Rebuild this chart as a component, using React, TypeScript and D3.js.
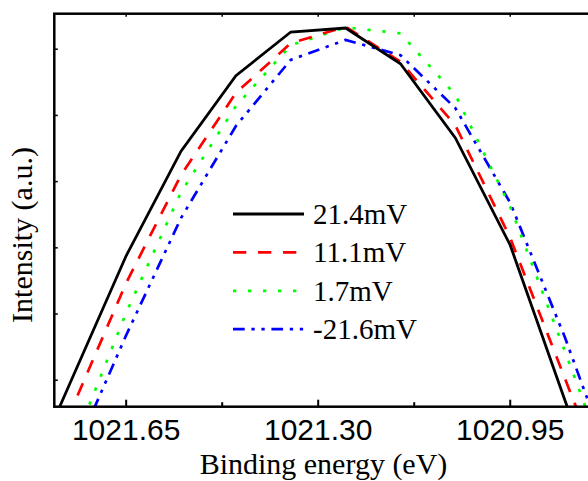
import React, { useRef, useEffect } from 'react';
import * as d3 from 'd3';

// binding energies (eV) where each curve was sampled
const energies = [1021.85, 1021.75, 1021.65, 1021.55, 1021.45, 1021.35, 1021.25, 1021.15, 1021.05, 1020.95, 1020.85, 1020.75];

// intensities (a.u.)
const s214 = [-0.89, 1.0, 2.88, 4.46, 5.6, 6.26, 6.32, 5.78, 4.66, 3.04, 0.69, -1.61];
const s111 = [-1.3, 0.55, 2.47, 4.1, 5.34, 6.09, 6.34, 5.81, 4.85, 3.15, 1.02, -1.11];
const s17 = [-2.1, -0.05, 2.02, 3.84, 5.14, 6.06, 6.33, 6.24, 5.31, 3.62, 1.43, -0.81];
const sm216 = [-2.1, -0.21, 1.68, 3.45, 4.84, 5.84, 6.14, 5.91, 5.11, 3.68, 1.64, -0.63];

const seriesNames = ['21.4mV', '11.1mV', '1.7mV', '-21.6mV'];

const xMajorTicks = [1021.65, 1021.3, 1020.95];
const xMinorTicks = [1021.475, 1021.125];
const yTicks = [1, 2, 3, 4, 5, 6];

const W = 588;
const H = 481;

const Chart = () => {
  const svgRef = useRef<SVGSVGElement>(null);

  useEffect(() => {
    const svg = d3.select(svgRef.current);
    svg.selectAll('*').remove();

    const left = 54.3, top = 13.7, right = 603.5, bottom = 406.7;

    const x = d3.scaleLinear().domain([1021.781, 1020.78]).range([left, right]);
    const y = d3.scaleLinear().domain([0.6, 0.6 + (bottom - top) / 66.2]).range([bottom, top]);

    svg.append('defs').append('clipPath').attr('id', 'plotclip')
      .append('rect')
      .attr('x', left).attr('y', top)
      .attr('width', right - left).attr('height', bottom - top);

    const styles = [
      { values: sm216, color: '#0000ff', dash: '11.7,6.7,3.3,6.7,3.3,6.7', width: 2.7, name: seriesNames[3] },
      { values: s17, color: '#00ff00', dash: '3.3,11.7', width: 2.7, name: seriesNames[2] },
      { values: s111, color: '#ff0000', dash: '13.3,11.7', width: 2.7, name: seriesNames[1] },
      { values: s214, color: '#000000', dash: null, width: 2.8, name: seriesNames[0] },
    ];

    const line = d3.line<number>()
      .x((d, i) => x(energies[i]))
      .y(d => y(d));

    const g = svg.append('g').attr('clip-path', 'url(#plotclip)');
    styles.forEach(s => {
      g.append('path')
        .attr('d', line(s.values))
        .attr('fill', 'none')
        .attr('stroke', s.color)
        .attr('stroke-width', s.width)
        .attr('stroke-dasharray', s.dash);
    });

    // frame
    svg.append('rect')
      .attr('x', left).attr('y', top)
      .attr('width', right - left).attr('height', bottom - top)
      .attr('fill', 'none')
      .attr('stroke', '#000')
      .attr('stroke-width', 2.5);

    // bottom ticks (inward)
    xMajorTicks.forEach(t => {
      svg.append('line')
        .attr('x1', x(t)).attr('x2', x(t))
        .attr('y1', bottom).attr('y2', bottom - 7)
        .attr('stroke', '#000').attr('stroke-width', 2);
      svg.append('line')
        .attr('x1', x(t)).attr('x2', x(t))
        .attr('y1', top).attr('y2', top + 3)
        .attr('stroke', '#000').attr('stroke-width', 1.5);
      svg.append('text')
        .attr('x', x(t)).attr('y', 440)
        .attr('text-anchor', 'middle')
        .attr('font-family', '"Liberation Sans", Arial, sans-serif')
        .attr('font-size', 30)
        .text(d3.format('.2f')(t));
    });
    xMinorTicks.forEach(t => {
      svg.append('line')
        .attr('x1', x(t)).attr('x2', x(t))
        .attr('y1', bottom).attr('y2', bottom - 4.5)
        .attr('stroke', '#000').attr('stroke-width', 2);
      svg.append('line')
        .attr('x1', x(t)).attr('x2', x(t))
        .attr('y1', top).attr('y2', top + 3)
        .attr('stroke', '#000').attr('stroke-width', 1.5);
    });

    // left ticks, no labels
    yTicks.forEach(t => {
      svg.append('line')
        .attr('x1', left).attr('x2', left + 3.5)
        .attr('y1', y(t)).attr('y2', y(t))
        .attr('stroke', '#000').attr('stroke-width', 1.5);
    });

    const serif = '"Liberation Serif", "Times New Roman", serif';

    svg.append('text')
      .attr('x', 323.5).attr('y', 474)
      .attr('text-anchor', 'middle')
      .attr('font-family', serif)
      .attr('font-size', 30)
      .text('Binding energy (eV)');

    svg.append('text')
      .attr('transform', `translate(32,235) rotate(-90)`)
      .attr('text-anchor', 'middle')
      .attr('font-family', serif)
      .attr('font-size', 30)
      .text('Intensity (a.u.)');

    // legend
    const legendOrder = [styles[3], styles[2], styles[1], styles[0]];
    legendOrder.forEach((s, i) => {
      const ly = 214 + i * 38.4;
      svg.append('line')
        .attr('x1', 233).attr('x2', 304)
        .attr('y1', ly).attr('y2', ly)
        .attr('stroke', s.color)
        .attr('stroke-width', s.width)
        .attr('stroke-dasharray', s.dash);
      svg.append('text')
        .attr('x', 313).attr('y', ly + 10)
        .attr('font-family', serif)
        .attr('font-size', 29)
        .text(s.name);
    });
  }, []);

  return (
    <svg ref={svgRef} width={W} height={H}
      style={{ position: 'absolute', left: 0, top: 0, background: '#fff' }} />
  );
};

export default function App() {
  return <Chart />;
}
